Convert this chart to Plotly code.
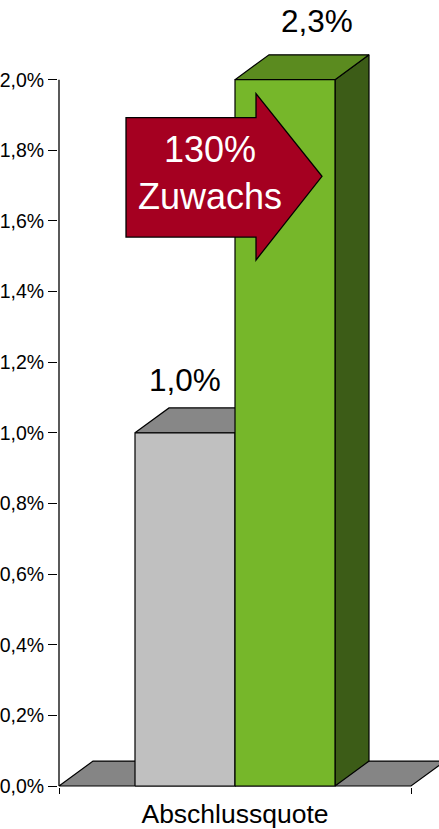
import plotly.graph_objects as go
import numpy as np

# ---- data ----
category = "Abschlussquote"
bar_names = ["Vorher", "Nachher"]
bar_values = [0.010, 0.023]
axis_max = 0.020
tick_values = [0.000, 0.002, 0.004, 0.006, 0.008, 0.010, 0.012, 0.014, 0.016, 0.018, 0.020]
arrow_text = ["130%", "Zuwachs"]

# ---- styles ----
FONT = "Arial, Liberation Sans, sans-serif"
W, H = 439, 829
ML, MB = 58, 39
front_colors = ["#C0C0C0", "#76B72A"]
top_colors = ["#878787", "#5B8B1F"]
side_colors = ["#7A7A7A", "#3C5C17"]
floor_color = "#858585"
arrow_color = "#A50021"

# pixel geometry of the axes (layout)
PX_X0, PX_X1 = 59, 411      # category span in pixels
PX_Y0, PX_YMAX = 789, 80    # y=0 and y=axis_max in pixels
DEPTH_PX = (34, 25)
BAR_GAP = 76 / 352          # gap fraction each side of bars

sx = (PX_X1 - PX_X0)        # px per x unit
sy = (PX_Y0 - PX_YMAX) / axis_max  # px per y unit
x_range = [(ML - PX_X0) / sx, (W - PX_X0) / sx]
y_range = [-(H - MB - PX_Y0) / sy, PX_Y0 / sy]
DX = DEPTH_PX[0] / sx
DY = DEPTH_PX[1] / sy

def fmt(v):
    return f"{v*100:.1f}%".replace(".", ",")

def poly(pts, color):
    xs = [p[0] for p in pts] + [pts[0][0]]
    ys = [p[1] for p in pts] + [pts[0][1]]
    return go.Scatter(x=xs, y=ys, mode="lines", fill="toself", fillcolor=color,
                      line=dict(color="black", width=1.2), hoverinfo="skip",
                      showlegend=False)

fig = go.Figure()

# floor
fig.add_trace(poly([(0, 0), (1, 0), (1 + DX, DY), (DX, DY)], floor_color))

n = len(bar_values)
bw = (1 - 2 * BAR_GAP) / n
for i, v in enumerate(bar_values):
    h = min(v, axis_max)
    x0 = BAR_GAP + i * bw
    x1 = x0 + bw
    fig.add_trace(poly([(x1, 0), (x1 + DX, DY), (x1 + DX, h + DY), (x1, h)], side_colors[i]))
    fig.add_trace(poly([(x0, h), (x1, h), (x1 + DX, h + DY), (x0 + DX, h + DY)], top_colors[i]))
    fig.add_trace(poly([(x0, 0), (x1, 0), (x1, h), (x0, h)], front_colors[i]))

# value labels
label_shift = [(0, 0, 15), (1, 32, 21)]
for i, dx_px, up in label_shift:
    v = bar_values[i]
    h = min(v, axis_max)
    xc = BAR_GAP + (i + 0.5) * bw
    fig.add_annotation(x=xc, y=h + DY, xref="x", yref="y", text=fmt(v),
                       showarrow=False, xanchor="center", yanchor="bottom",
                       xshift=dx_px, yshift=up - 7,
                       font=dict(family=FONT, size=31.5, color="black"))

# y axis line
fig.add_trace(go.Scatter(x=[0, 0], y=[0, axis_max], mode="lines",
                         line=dict(color="black", width=1.3), hoverinfo="skip",
                         showlegend=False))

# arrow (pixel outline converted to paper coords)
def pp(px, py):
    return ((px - ML) / (W - ML), (H - MB - py) / (H - MB))

arrow_px = [(126, 118), (256, 118), (256, 94), (322, 177), (256, 261), (256, 238), (126, 238)]
path = "M " + " L ".join(f"{pp(a, b)[0]:.4f},{pp(a, b)[1]:.4f}" for a, b in arrow_px) + " Z"
fig.add_shape(type="path", path=path, xref="paper", yref="paper",
              fillcolor=arrow_color, line=dict(color="black", width=1.3))
cx, cy = pp(210, 174)
fig.add_annotation(x=cx, y=cy, xref="paper", yref="paper", text="<br>".join(arrow_text),
                   showarrow=False, xanchor="center", yanchor="middle",
                   font=dict(family=FONT, size=36, color="white"))

fig.update_layout(
    width=W, height=H,
    margin=dict(l=ML, r=0, t=0, b=MB),
    plot_bgcolor="white", paper_bgcolor="white",
    separators=",.",
    showlegend=False,
    xaxis=dict(range=x_range, showgrid=False, zeroline=False, showline=False,
               tickvals=[0.5], ticktext=[category], ticks="",
               tickfont=dict(family=FONT, size=26.5, color="black"),
               ticklabelstandoff=8,
               minor=dict(tickvals=[0, 1], ticks="outside", ticklen=6,
                          tickcolor="black", tickwidth=1.3, showgrid=False),
               fixedrange=True),
    yaxis=dict(range=y_range, showgrid=False, zeroline=False, showline=False,
               tickvals=tick_values, tickformat=".1%", ticks="outside",
               ticklen=9, tickcolor="black", tickwidth=1.3,
               tickfont=dict(family=FONT, size=19.5, color="black"),
               fixedrange=True),
)

fig.write_html("out.html", config={"displayModeBar": False},
               post_script="document.body.style.margin='0';document.body.style.overflow='hidden';")
